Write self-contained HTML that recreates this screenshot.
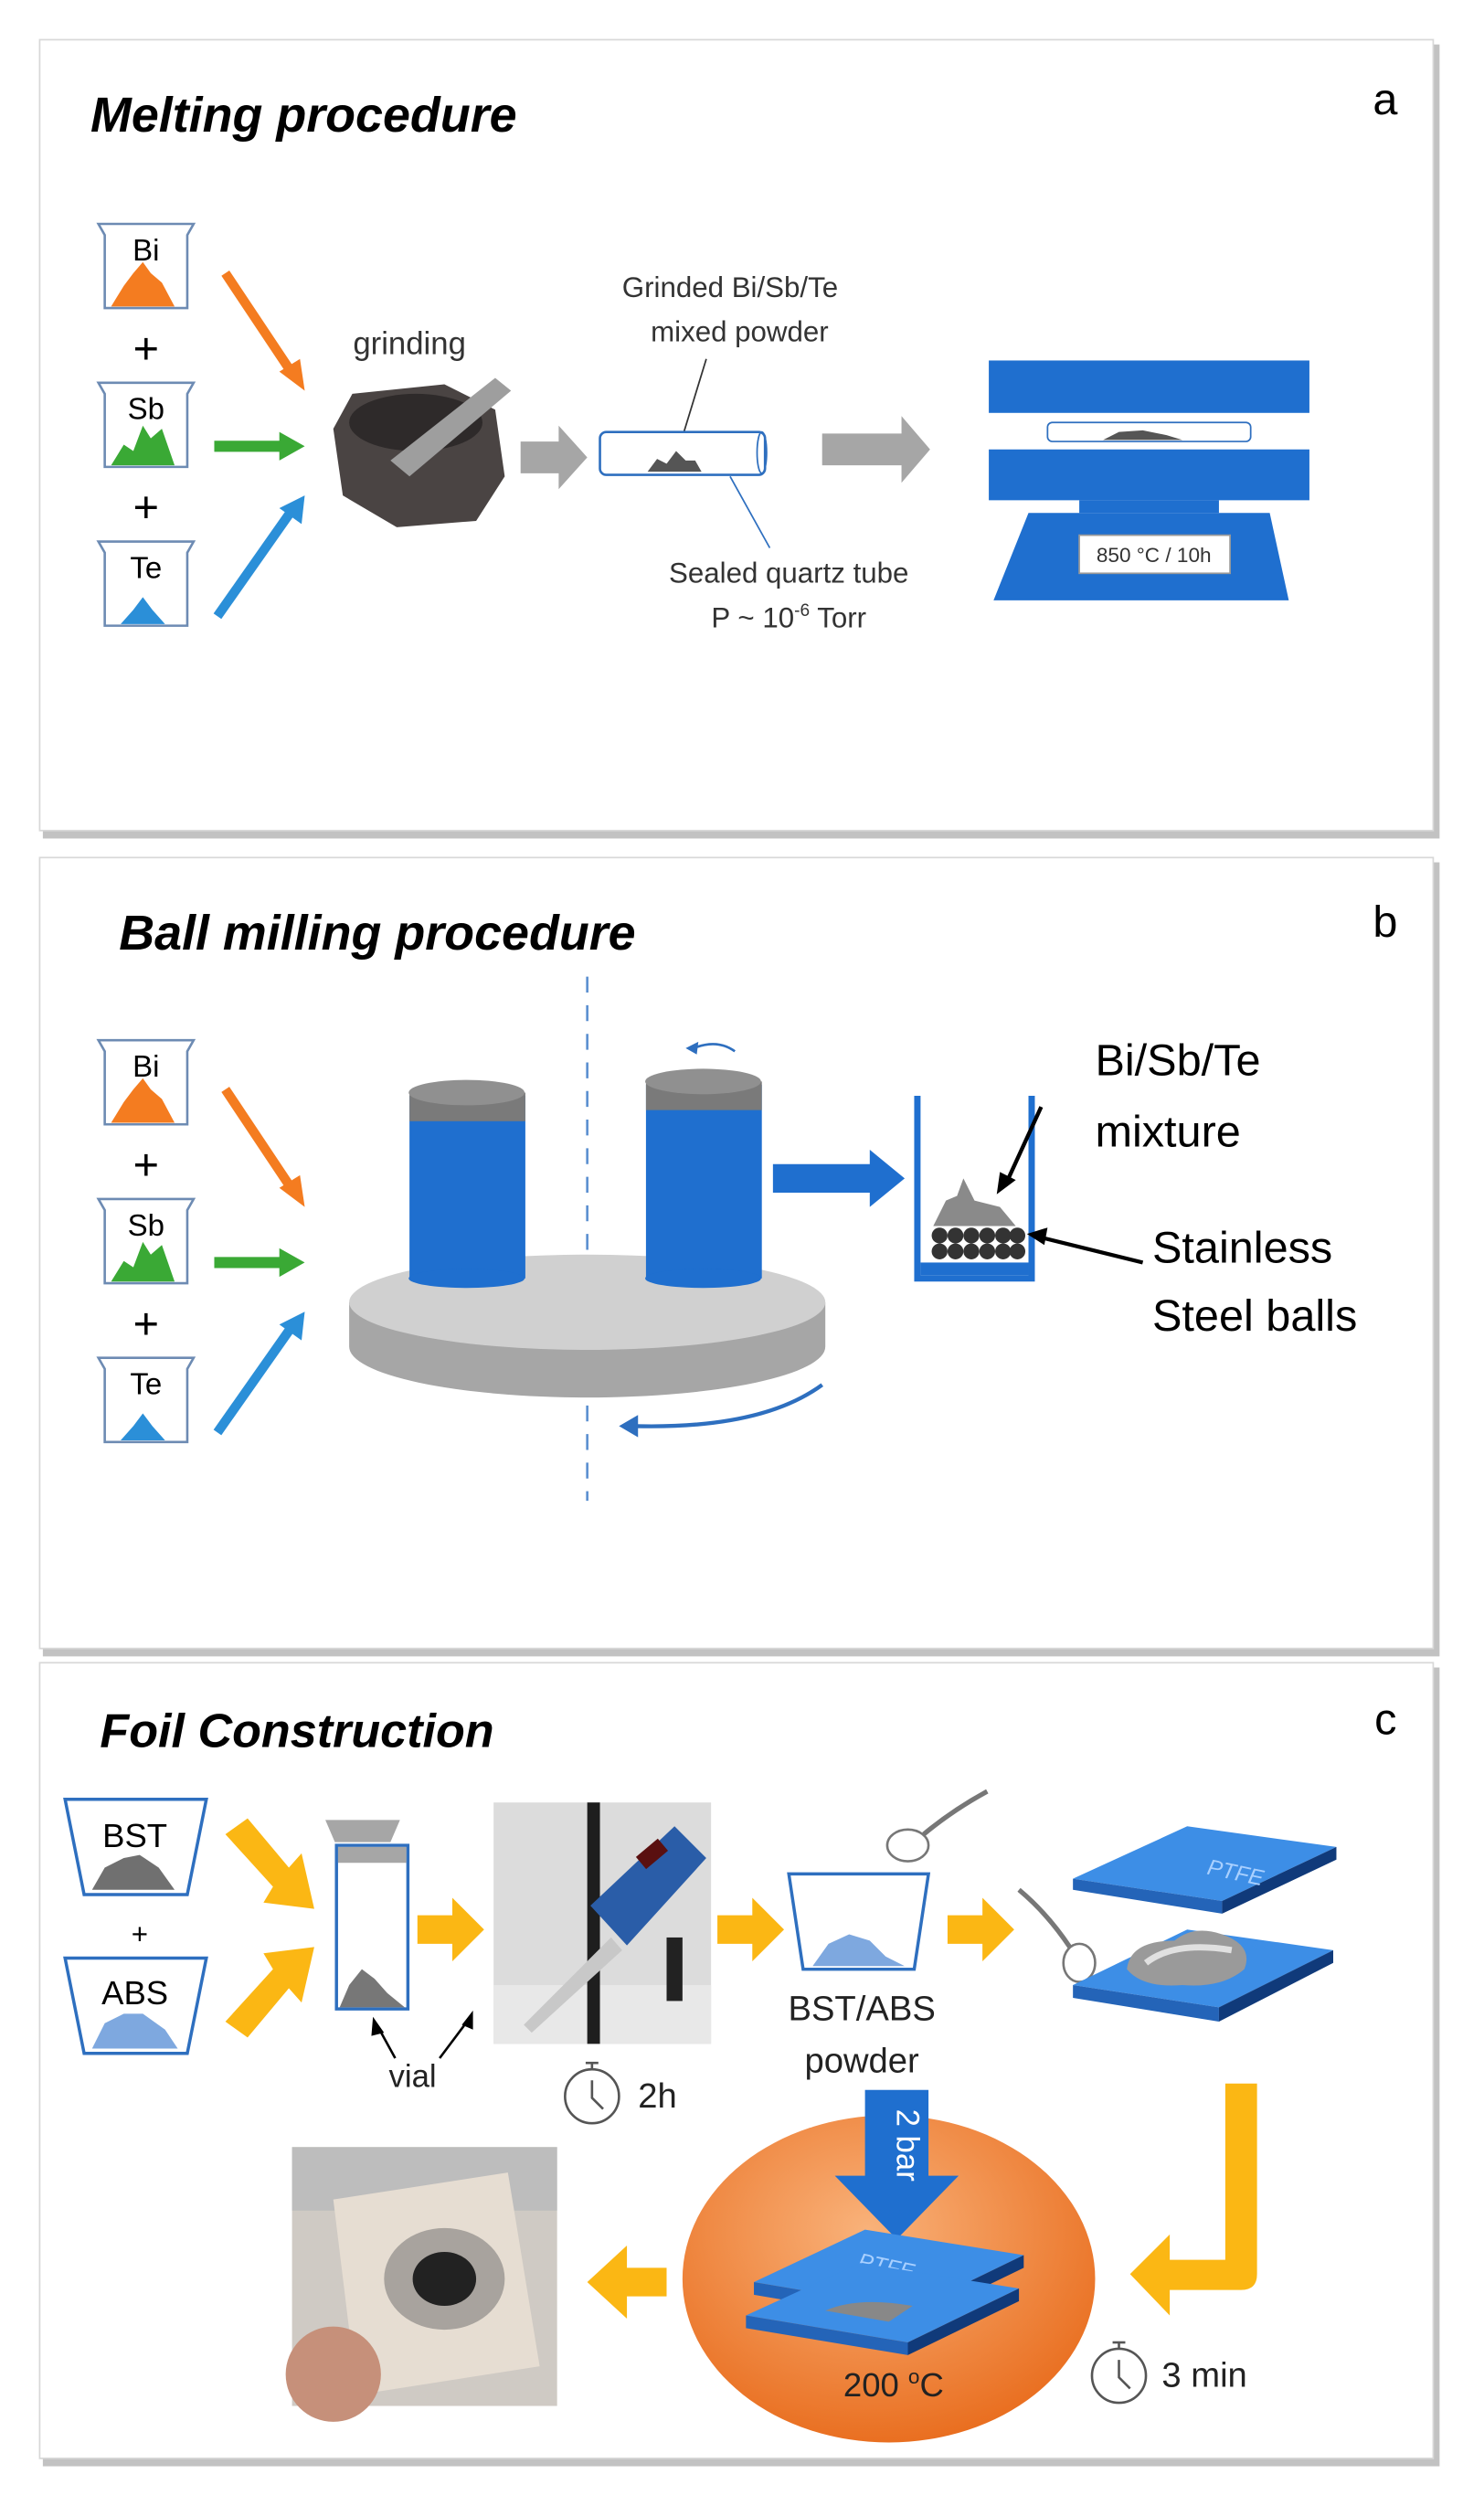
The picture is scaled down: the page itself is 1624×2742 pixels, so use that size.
<!DOCTYPE html>
<html><head><meta charset="utf-8"><style>
html,body{margin:0;padding:0;background:#fff}
svg{display:block}
text{font-family:"Liberation Sans",sans-serif}
</style></head><body>
<svg width="1624" height="2742" viewBox="0 0 935 1578" preserveAspectRatio="none" xmlns="http://www.w3.org/2000/svg">
<rect width="935" height="1578" fill="#fff"/>
<!-- panels -->
<g>
<rect x="27" y="28" width="880" height="500" fill="#9a9a9a" opacity="0.6"/>
<rect x="25" y="25" width="878" height="498" fill="#fff" stroke="#d8d8d8"/>
<rect x="27" y="543" width="880" height="500" fill="#9a9a9a" opacity="0.6"/>
<rect x="25" y="540" width="878" height="498" fill="#fff" stroke="#d8d8d8"/>
<rect x="27" y="1050" width="880" height="503" fill="#9a9a9a" opacity="0.6"/>
<rect x="25" y="1047" width="878" height="501" fill="#fff" stroke="#d8d8d8"/>
</g>

<!-- ===== Panel a ===== -->
<text x="57" y="83" font-size="31" font-weight="bold" font-style="italic">Melting procedure</text>
<text x="865" y="72" font-size="28">a</text>
<g>
<path d="M62,141 L122,141 L118,148 L118,194 L66,194 L66,148 Z" fill="#fff" stroke="#6d8bb3" stroke-width="1.5"/>
<text x="92" y="164" font-size="19" text-anchor="middle">Bi</text>
<path d="M70,193 L78,180 L84,172 L90,165 L95,172 L102,178 L110,193 Z" fill="#f47c20"/>
<path d="M62,241 L122,241 L118,248 L118,294 L66,294 L66,248 Z" fill="#fff" stroke="#6d8bb3" stroke-width="1.5"/>
<text x="92" y="264" font-size="19" text-anchor="middle">Sb</text>
<path d="M70,293 L78,280 L84,284 L90,268 L95,276 L102,270 L110,293 Z" fill="#3aa935"/>
<path d="M62,341 L122,341 L118,348 L118,394 L66,394 L66,348 Z" fill="#fff" stroke="#6d8bb3" stroke-width="1.5"/>
<text x="92" y="364" font-size="19" text-anchor="middle">Te</text>
<path d="M76,393 L84,384 L90,376 L96,384 L104,393 Z" fill="#2b8fd8"/>
<text x="92" y="229" font-size="28" text-anchor="middle">+</text>
<text x="92" y="329" font-size="28" text-anchor="middle">+</text>
<line x1="142" y1="172" x2="182" y2="232" stroke="#f47c20" stroke-width="6"/>
<path d="M176,234 L192,246 L189,226 Z" fill="#f47c20"/>
<line x1="135" y1="281" x2="178" y2="281" stroke="#3aa935" stroke-width="7"/>
<path d="M176,272 L192,281 L176,290 Z" fill="#3aa935"/>
<line x1="137" y1="388" x2="182" y2="324" stroke="#2b8fd8" stroke-width="6"/>
<path d="M176,320 L192,312 L190,330 Z" fill="#2b8fd8"/>
</g>
<text x="258" y="223" font-size="20" text-anchor="middle" fill="#333">grinding</text>
<path d="M222,248 L280,242 L312,258 L318,300 L300,328 L250,332 L216,312 L210,270 Z" fill="#4a4443"/>
<ellipse cx="262" cy="266" rx="42" ry="18" fill="#2e2a2a"/>
<path d="M246,290 L312,238 L322,246 L258,300 Z" fill="#9e9e9e"/>
<path d="M328,278 L352,278 L352,268 L370,288 L352,308 L352,298 L328,298 Z" fill="#a6a6a6"/>
<text x="460" y="187" font-size="18" text-anchor="middle" fill="#333">Grinded Bi/Sb/Te</text>
<text x="466" y="215" font-size="18" text-anchor="middle" fill="#333">mixed powder</text>
<line x1="445" y1="226" x2="430" y2="275" stroke="#333"/>
<rect x="378" y="272" width="104" height="27" rx="4" fill="#fff" stroke="#2e6fbf" stroke-width="1.5"/>
<ellipse cx="480" cy="285" rx="3" ry="13" fill="none" stroke="#2e6fbf"/>
<path d="M408,297 L414,289 L420,292 L426,284 L432,290 L438,290 L442,297 Z" fill="#555"/>
<line x1="460" y1="300" x2="485" y2="345" stroke="#2e6fbf"/>
<text x="497" y="367" font-size="18" text-anchor="middle" fill="#333">Sealed quartz tube</text>
<text x="497" y="395" font-size="18" text-anchor="middle" fill="#333">P ~ 10<tspan font-size="11" dy="-7">-6</tspan><tspan dy="7"> Torr</tspan></text>
<path d="M518,273 L568,273 L568,262 L586,283 L568,304 L568,293 L518,293 Z" fill="#a6a6a6"/>
<rect x="623" y="227" width="202" height="33" fill="#1f6fcf"/>
<rect x="660" y="266" width="128" height="12" rx="3" fill="#fff" stroke="#2e6fbf"/>
<path d="M695,277 L705,272 L720,271 L735,274 L745,277 Z" fill="#555"/>
<rect x="623" y="283" width="202" height="32" fill="#1f6fcf"/>
<rect x="680" y="315" width="88" height="8" fill="#1f6fcf"/>
<path d="M648,323 L800,323 L812,378 L626,378 Z" fill="#1f6fcf"/>
<rect x="680" y="337" width="95" height="24" fill="#fff" stroke="#999"/>
<text x="727" y="354" font-size="13" text-anchor="middle" fill="#333">850 °C / 10h</text>

<!-- ===== Panel b ===== -->
<text x="75" y="598" font-size="31" font-weight="bold" font-style="italic">Ball milling procedure</text>
<text x="865" y="590" font-size="28">b</text>
<g transform="translate(0,514)">
<path d="M62,141 L122,141 L118,148 L118,194 L66,194 L66,148 Z" fill="#fff" stroke="#6d8bb3" stroke-width="1.5"/>
<text x="92" y="164" font-size="19" text-anchor="middle">Bi</text>
<path d="M70,193 L78,180 L84,172 L90,165 L95,172 L102,178 L110,193 Z" fill="#f47c20"/>
<path d="M62,241 L122,241 L118,248 L118,294 L66,294 L66,248 Z" fill="#fff" stroke="#6d8bb3" stroke-width="1.5"/>
<text x="92" y="264" font-size="19" text-anchor="middle">Sb</text>
<path d="M70,293 L78,280 L84,284 L90,268 L95,276 L102,270 L110,293 Z" fill="#3aa935"/>
<path d="M62,341 L122,341 L118,348 L118,394 L66,394 L66,348 Z" fill="#fff" stroke="#6d8bb3" stroke-width="1.5"/>
<text x="92" y="364" font-size="19" text-anchor="middle">Te</text>
<path d="M76,393 L84,384 L90,376 L96,384 L104,393 Z" fill="#2b8fd8"/>
<text x="92" y="229" font-size="28" text-anchor="middle">+</text>
<text x="92" y="329" font-size="28" text-anchor="middle">+</text>
<line x1="142" y1="172" x2="182" y2="232" stroke="#f47c20" stroke-width="6"/>
<path d="M176,234 L192,246 L189,226 Z" fill="#f47c20"/>
<line x1="135" y1="281" x2="178" y2="281" stroke="#3aa935" stroke-width="7"/>
<path d="M176,272 L192,281 L176,290 Z" fill="#3aa935"/>
<line x1="137" y1="388" x2="182" y2="324" stroke="#2b8fd8" stroke-width="6"/>
<path d="M176,320 L192,312 L190,330 Z" fill="#2b8fd8"/>
</g>
<line x1="370" y1="615" x2="370" y2="945" stroke="#5b8fd0" stroke-width="1.5" stroke-dasharray="10,8"/>
<path d="M220,820 L520,820 L520,848 A150,32 0 0 1 220,848 Z" fill="#a6a6a6"/>
<ellipse cx="370" cy="820" rx="150" ry="30" fill="#d0d0d0"/>
<rect x="258" y="690" width="73" height="115" fill="#1f6fcf"/>
<ellipse cx="294" cy="805" rx="36.5" ry="6" fill="#1f6fcf"/>
<rect x="258" y="688" width="73" height="18" fill="#7a7a7a"/>
<ellipse cx="294" cy="688" rx="36.5" ry="8" fill="#909090"/>
<rect x="407" y="683" width="73" height="122" fill="#1f6fcf"/>
<ellipse cx="443" cy="805" rx="36.5" ry="6" fill="#1f6fcf"/>
<rect x="407" y="681" width="73" height="18" fill="#7a7a7a"/>
<ellipse cx="443" cy="681" rx="36.5" ry="8" fill="#909090"/>
<path d="M463,662 Q452,654 437,660" fill="none" stroke="#2e6fbf" stroke-width="1.5"/>
<path d="M432,660 L440,656 L439,664 Z" fill="#2e6fbf"/>
<path d="M518,872 Q480,900 400,898" fill="none" stroke="#2e6fbf" stroke-width="2.5"/>
<path d="M390,898 L402,891 L402,905 Z" fill="#2e6fbf"/>
<path d="M487,733 L548,733 L548,724 L570,742 L548,760 L548,751 L487,751 Z" fill="#1f6fcf"/>
<path d="M578,690 L578,805 L650,805 L650,690" fill="none" stroke="#1f6fcf" stroke-width="4"/>
<rect x="580" y="795" width="68" height="8" fill="#1f6fcf"/>
<g fill="#333">
<circle cx="592" cy="788" r="5"/><circle cx="602" cy="788" r="5"/><circle cx="612" cy="788" r="5"/><circle cx="622" cy="788" r="5"/><circle cx="632" cy="788" r="5"/><circle cx="641" cy="788" r="5"/>
<circle cx="592" cy="778" r="5"/><circle cx="602" cy="778" r="5"/><circle cx="612" cy="778" r="5"/><circle cx="622" cy="778" r="5"/><circle cx="632" cy="778" r="5"/><circle cx="641" cy="778" r="5"/>
</g>
<path d="M588,772 L596,756 L603,753 L607,742 L614,756 L630,760 L640,772 Z" fill="#8a8a8a"/>
<text x="690" y="677" font-size="28">Bi/Sb/Te</text>
<text x="690" y="722" font-size="28">mixture</text>
<text x="726" y="795" font-size="28">Stainless</text>
<text x="726" y="838" font-size="28">Steel balls</text>
<line x1="656" y1="697" x2="634" y2="745" stroke="#000" stroke-width="2.5"/>
<path d="M628,752 L630,738 L640,743 Z" fill="#000"/>
<line x1="720" y1="795" x2="655" y2="779" stroke="#000" stroke-width="2.5"/>
<path d="M647,777 L660,773 L658,784 Z" fill="#000"/>

<!-- ===== Panel c ===== -->
<text x="63" y="1100" font-size="30" font-weight="bold" font-style="italic">Foil Construction</text>
<text x="866" y="1092" font-size="28">c</text>
<path d="M41,1133 L130,1133 L118,1193 L53,1193 Z" fill="#fff" stroke="#2e6fbf" stroke-width="2"/>
<text x="85" y="1163" font-size="21" text-anchor="middle">BST</text>
<path d="M58,1190 L66,1176 L78,1170 L88,1168 L100,1176 L110,1190 Z" fill="#707070"/>
<text x="88" y="1224" font-size="18" text-anchor="middle">+</text>
<path d="M41,1233 L130,1233 L118,1293 L53,1293 Z" fill="#fff" stroke="#2e6fbf" stroke-width="2"/>
<text x="85" y="1262" font-size="21" text-anchor="middle">ABS</text>
<path d="M58,1290 L66,1274 L78,1268 L90,1268 L104,1278 L112,1290 Z" fill="#7ea8df"/>
<path d="M142,1155 L156,1145 L182,1176 L190,1167 L198,1202 L166,1198 L172,1188 Z" fill="#fbb714"/>
<path d="M142,1273 L156,1283 L182,1252 L190,1261 L198,1226 L166,1230 L172,1240 Z" fill="#fbb714"/>
<path d="M205,1146 L252,1146 L246,1160 L211,1160 Z" fill="#a6a6a6"/>
<rect x="212" y="1162" width="45" height="103" fill="#fff" stroke="#2e6fbf" stroke-width="2"/>
<rect x="213" y="1163" width="43" height="10" fill="#a6a6a6"/>
<path d="M214,1264 L220,1250 L228,1240 L236,1246 L244,1255 L255,1264 Z" fill="#777"/>
<text x="260" y="1314" font-size="20" text-anchor="middle" fill="#222">vial</text>
<line x1="249" y1="1296" x2="238" y2="1276" stroke="#000" stroke-width="1.5"/>
<path d="M235,1270 L242,1280 L234,1282 Z" fill="#000"/>
<line x1="277" y1="1296" x2="295" y2="1272" stroke="#000" stroke-width="1.5"/>
<path d="M298,1266 L298,1278 L291,1275 Z" fill="#000"/>
<path d="M263,1206 L285,1206 L285,1195 L305,1215 L285,1235 L285,1224 L263,1224 Z" fill="#fbb714"/>
<rect x="311" y="1135" width="137" height="152" fill="#dcdcdc"/>
<rect x="311" y="1250" width="137" height="37" fill="#e8e8e8"/>
<rect x="370" y="1135" width="8" height="152" fill="#1e1e1e"/>
<path d="M372,1200 L425,1150 L445,1170 L395,1225 Z" fill="#2a5da8"/>
<rect x="402" y="1163" width="18" height="10" fill="#5a1010" transform="rotate(-40 410 1168)"/>
<path d="M385,1220 L330,1275 L335,1280 L392,1228 Z" fill="#c8c8c8"/>
<rect x="420" y="1220" width="10" height="40" fill="#222"/>
<g fill="none" stroke="#555" stroke-width="1.5">
<circle cx="373" cy="1320" r="17"/>
<line x1="373" y1="1303" x2="373" y2="1299"/>
<line x1="369" y1="1299" x2="377" y2="1299"/>
<polyline points="373,1310 373,1321 380,1328"/>
</g>
<text x="402" y="1327" font-size="22" fill="#222">2h</text>
<path d="M452,1206 L474,1206 L474,1195 L494,1215 L474,1235 L474,1224 L452,1224 Z" fill="#fbb714"/>
<path d="M497,1180 L585,1180 L576,1240 L506,1240 Z" fill="#fff" stroke="#2e6fbf" stroke-width="2"/>
<path d="M512,1238 L522,1224 L535,1218 L548,1222 L558,1232 L570,1238 Z" fill="#7ea8df"/>
<ellipse cx="572" cy="1162" rx="13" ry="10" fill="#fff" stroke="#777" stroke-width="1.5"/>
<path d="M582,1155 Q600,1140 622,1128" fill="none" stroke="#777" stroke-width="3"/>
<text x="543" y="1272" font-size="22" text-anchor="middle" fill="#222">BST/ABS</text>
<text x="543" y="1305" font-size="22" text-anchor="middle" fill="#222">powder</text>
<path d="M597,1206 L619,1206 L619,1195 L639,1215 L619,1235 L619,1224 L597,1224 Z" fill="#fbb714"/>
<ellipse cx="680" cy="1236" rx="10" ry="12" fill="#fff" stroke="#777" stroke-width="1.5"/>
<path d="M674,1226 Q660,1205 642,1190" fill="none" stroke="#777" stroke-width="3"/>
<path d="M676,1183 L748,1150 L842,1163 L770,1197 Z" fill="#3d8ee6"/>
<path d="M676,1183 L770,1197 L770,1205 L676,1190 Z" fill="#2464b8"/>
<path d="M770,1197 L842,1163 L842,1171 L770,1205 Z" fill="#103a7a"/>
<text x="760" y="1180" font-size="14" fill="#a9d0ff" font-style="italic" transform="rotate(12 760 1180)">PTFE</text>
<path d="M676,1250 L748,1215 L840,1228 L768,1264 Z" fill="#3d8ee6"/>
<path d="M676,1250 L768,1264 L768,1273 L676,1258 Z" fill="#2464b8"/>
<path d="M768,1264 L840,1228 L840,1236 L768,1273 Z" fill="#103a7a"/>
<path d="M710,1240 Q712,1222 740,1222 Q752,1212 770,1218 Q790,1225 784,1240 Q770,1252 745,1250 Q720,1252 710,1240 Z" fill="#9a9a9a"/>
<path d="M722,1236 Q740,1222 776,1228" fill="none" stroke="#e0e0e0" stroke-width="4"/>
<path d="M772,1312 L792,1312 L792,1432 Q792,1442 782,1442 L737,1442 L737,1458 L712,1432 L737,1407 L737,1423 L772,1423 Z" fill="#fbb714"/>
<defs><radialGradient id="og" cx="0.45" cy="0.35" r="0.7"><stop offset="0" stop-color="#f9b27a"/><stop offset="1" stop-color="#e86a1a"/></radialGradient></defs>
<ellipse cx="560" cy="1435" rx="130" ry="103" fill="url(#og)"/>
<path d="M545,1316 L585,1316 L585,1370 L604,1370 L565,1410 L526,1370 L545,1370 Z" fill="#1f6fcf"/>
<text x="565" y="1328" font-size="20" fill="#fff" transform="rotate(90 565 1328)">2 bar</text>
<path d="M475,1437 L545,1404 L645,1420 L575,1454 Z" fill="#3d8ee6"/>
<path d="M475,1437 L575,1454 L575,1462 L475,1445 Z" fill="#2464b8"/>
<path d="M575,1454 L645,1420 L645,1428 L575,1462 Z" fill="#103a7a"/>
<text x="540" y="1428" font-size="14" fill="#a9d0ff" font-style="italic" transform="rotate(12 540 1428)">PTFE</text>
<path d="M470,1458 L542,1425 L642,1441 L572,1475 Z" fill="#3d8ee6"/>
<path d="M470,1458 L572,1475 L572,1483 L470,1466 Z" fill="#2464b8"/>
<path d="M572,1475 L642,1441 L642,1449 L572,1483 Z" fill="#103a7a"/>
<path d="M520,1455 Q540,1446 575,1452 L560,1462 Z" fill="#888"/>
<text x="563" y="1509" font-size="21" text-anchor="middle" fill="#222">200 <tspan font-size="13" dy="-8">o</tspan><tspan dy="8">C</tspan></text>
<g fill="none" stroke="#555" stroke-width="1.5">
<circle cx="705" cy="1496" r="17"/>
<line x1="705" y1="1479" x2="705" y2="1475"/>
<line x1="701" y1="1475" x2="709" y2="1475"/>
<polyline points="705,1486 705,1497 712,1504"/>
</g>
<text x="732" y="1503" font-size="22" fill="#222">3 min</text>
<path d="M420,1428 L395,1428 L395,1414 L370,1437 L395,1460 L395,1446 L420,1446 Z" fill="#fbb714"/>
<rect x="184" y="1352" width="167" height="163" fill="#cfcac4"/>
<rect x="184" y="1352" width="167" height="40" fill="#bdbdbd"/>
<path d="M210,1385 L320,1368 L340,1490 L225,1508 Z" fill="#e6ddd2"/>
<ellipse cx="280" cy="1435" rx="38" ry="32" fill="#6a6a6a" opacity="0.5"/>
<ellipse cx="280" cy="1435" rx="20" ry="17" fill="#222"/>
<ellipse cx="210" cy="1495" rx="30" ry="30" fill="#c6907a"/>
</svg>
</body></html>
